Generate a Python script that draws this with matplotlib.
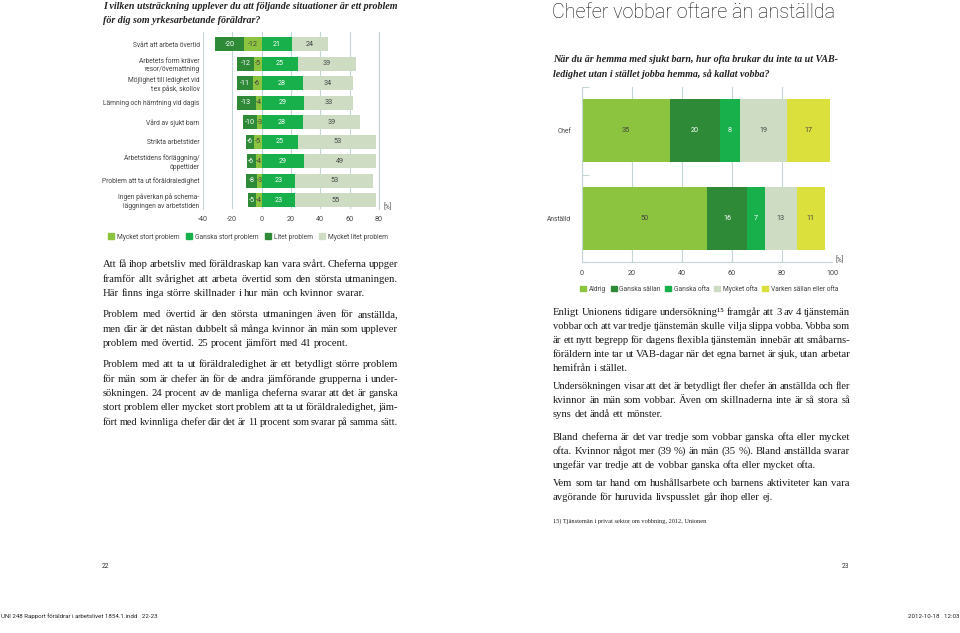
import matplotlib
matplotlib.use('Agg')
import numpy as np
from matplotlib import pyplot as plt
from matplotlib.patches import Patch

plt.rcParams['axes.unicode_minus'] = False

W, H = 960, 633

# colours
LIME = '#8cc43f'
DARK = '#2f8a38'
GREEN = '#17b04b'
PALE = '#cddcc3'
YELLOW = '#dbe03d'
GRID = '#c3d5d6'
TXT = '#444444'

# left chart data (top to bottom)
cats_left = ["Svårt att arbeta övertid",
             "Arbetets form kräver\nresor/övernattning",
             "Möjlighet till ledighet vid\nt ex påsk, skollov",
             "Lämning och hämtning vid dagis",
             "Vård av sjukt barn",
             "Strikta arbetstider",
             "Arbetstidens förläggning/\nöppettider",
             "Problem att ta ut föräldraledighet",
             "Ingen påverkan på schema-\nläggningen av arbetstiden"]
mycket_stort = [-12, -5, -6, -4, -3, -5, -4, -3, -4]
litet = [-20, -12, -11, -13, -10, -6, -6, -8, -5]
ganska_stort = [21, 25, 28, 29, 28, 25, 29, 23, 23]
mycket_litet = [24, 39, 34, 33, 39, 53, 49, 53, 55]
xticks_left = [-40, -20, 0, 20, 40, 60, 80]

# right chart data
cats_right = ["Anställd", "Chef"]
aldrig = [50, 35]
ganska_sallan = [16, 20]
ganska_ofta = [7, 8]
mycket_ofta = [13, 19]
varken = [11, 17]
xticks_right = [0, 20, 40, 60, 80, 100]

SANS = ['Roboto', 'DejaVu Sans']
SERIF = ['Liberation Serif', 'DejaVu Serif']

fig = plt.figure(figsize=(9.6, 6.33), dpi=100)
fig.patch.set_facecolor('white')

def fx(x):
    return x / W
def fy(y):
    return 1 - y / H

NUM = 5.2

# ---- left chart
ax1 = fig.add_axes([fx(203), fy(209), 176 / W, 177 / H])
y = np.arange(len(cats_left))
h = 0.72
ax1.barh(y, mycket_stort, height=h, color=LIME, zorder=2)
ax1.barh(y, litet, left=mycket_stort, height=h, color=DARK, zorder=2)
ax1.barh(y, ganska_stort, height=h, color=GREEN, zorder=2)
ax1.barh(y, mycket_litet, left=ganska_stort, height=h, color=PALE, zorder=2)
for i in range(len(y)):
    ax1.text(mycket_stort[i] / 2, i, str(mycket_stort[i]), ha='center', va='center',
             fontsize=NUM, color=TXT, family=SANS, zorder=3)
    ax1.text(mycket_stort[i] + litet[i] / 2, i, str(litet[i]), ha='center', va='center',
             fontsize=NUM, color='white', family=SANS, zorder=3)
    ax1.text(ganska_stort[i] / 2, i, str(ganska_stort[i]), ha='center', va='center',
             fontsize=NUM, color='white', family=SANS, zorder=3)
    ax1.text(ganska_stort[i] + mycket_litet[i] / 2, i, str(mycket_litet[i]), ha='center',
             va='center', fontsize=NUM, color=TXT, family=SANS, zorder=3)
ax1.set_xlim(-40, 80)
ax1.set_ylim(8.46, -0.62)
ax1.set_xticks(xticks_left)
ax1.set_yticks(y)
ax1.set_yticklabels(cats_left, family=SANS, fontsize=4.8, color=TXT, linespacing=1.25)
ax1.tick_params(axis='y', length=0, pad=2.5)
ax1.tick_params(axis='x', length=0, pad=5, labelsize=5.2, labelcolor=TXT)
for t in ax1.get_xticklabels():
    t.set_family(SANS)
ax1.grid(axis='x', color=GRID, lw=0.8, zorder=0)
ax1.set_axisbelow(True)
for s in ['top', 'bottom']:
    ax1.spines[s].set_visible(False)
for s in ['left', 'right']:
    ax1.spines[s].set_color(GRID)
    ax1.spines[s].set_linewidth(0.8)
fig.text(fx(383), fy(207), '[%]', fontsize=4.8, color=TXT, family=SANS, va='center')
ax1.legend(handles=[Patch(color=LIME), Patch(color=GREEN), Patch(color=DARK), Patch(color=PALE)],
           labels=['Mycket stort problem', 'Ganska stort problem', 'Litet problem',
                   'Mycket litet problem'],
           loc='center left', bbox_to_anchor=(fx(108), fy(237)), bbox_transform=fig.transFigure,
           ncol=4, frameon=False, prop={'family': SANS, 'size': 4.8}, handlelength=0.9,
           handleheight=0.9, handletextpad=0.4, columnspacing=1.0, borderpad=0,
           borderaxespad=0, labelcolor=TXT)

# ---- right chart
ax2 = fig.add_axes([fx(582), fy(262), 250 / W, 175 / H])
y2 = np.arange(len(cats_right))
h2 = 0.716
left = np.zeros(len(y2))
series = [(aldrig, LIME, TXT), (ganska_sallan, DARK, 'white'), (ganska_ofta, GREEN, 'white'),
          (mycket_ofta, PALE, TXT), (varken, YELLOW, TXT)]
for vals, col, tc in series:
    ax2.barh(y2, vals, left=left, height=h2, color=col, zorder=2)
    for i, v in enumerate(vals):
        ax2.text(left[i] + v / 2, i, str(v), ha='center', va='center', fontsize=NUM,
                 color=tc, family=SANS, zorder=3)
    left = left + np.array(vals)
ax2.set_xlim(0, 100)
ax2.set_ylim(-0.5, 1.5)
ax2.set_xticks(xticks_right)
ax2.set_yticks(y2)
ax2.set_yticklabels(cats_right, family=SANS, fontsize=4.8, color=TXT)
ax2.set_yticks([-0.5, 0.5, 1.5], minor=True)
ax2.tick_params(axis='y', which='major', length=0, pad=8)
ax2.tick_params(axis='y', which='minor', length=5, direction='in', color=GRID, width=0.8)
ax2.tick_params(axis='x', length=0, pad=6, labelsize=5.2, labelcolor=TXT)
for t in ax2.get_xticklabels():
    t.set_family(SANS)
ax2.grid(axis='x', color=GRID, lw=0.8, zorder=0)
ax2.set_axisbelow(True)
for s in ['top', 'right']:
    ax2.spines[s].set_visible(False)
for s in ['left', 'bottom']:
    ax2.spines[s].set_color(GRID)
    ax2.spines[s].set_linewidth(0.8)
fig.text(fx(836), fy(260), '[%]', fontsize=4.8, color=TXT, family=SANS, va='center')
ax2.legend(handles=[Patch(color=LIME), Patch(color=DARK), Patch(color=GREEN), Patch(color=PALE),
                    Patch(color=YELLOW)],
           labels=['Aldrig', 'Ganska sällan', 'Ganska ofta', 'Mycket ofta',
                   'Varken sällan eller ofta'],
           loc='center left', bbox_to_anchor=(fx(580), fy(289)), bbox_transform=fig.transFigure,
           ncol=5, frameon=False, prop={'family': SANS, 'size': 4.8}, handlelength=0.9,
           handleheight=0.9, handletextpad=0.4, columnspacing=0.7, borderpad=0,
           borderaxespad=0, labelcolor=TXT)

# ---- page text
renderer = fig.canvas.get_renderer()

def put_line(x0, x1, yb, s, justify, size, **kw):
    words = s.split(' ')
    target = x1 - x0

    def measure(sz):
        ts = [fig.text(fx(x0), fy(yb), w, ha='left', va='baseline', fontsize=sz, **kw)
              for w in words]
        return ts, [t.get_window_extent(renderer).width for t in ts]

    ts, ws = measure(size)
    space = 0.25 * size * 100 / 72
    minspace = 0.8 * space
    if sum(ws) + (len(words) - 1) * minspace > target:
        # squeeze the line a little, like the typesetter does
        for t in ts:
            t.remove()
        size = size * (target - (len(words) - 1) * minspace) / sum(ws)
        space = 0.25 * size * 100 / 72
        ts, ws = measure(size)
    if len(words) > 1:
        fill = (target - sum(ws)) / (len(words) - 1)
        gap = fill if justify else min(space, fill)
    else:
        gap = 0
    x = x0
    for t, w in zip(ts, ws):
        t.set_x(fx(x))
        x += w + gap

def paragraph(x0, x1, y0, lines, step=14.5, size=7.7, **kw):
    for k, s in enumerate(lines):
        put_line(x0, x1, y0 + k * step, s, k < len(lines) - 1, size, **kw)

body = dict(family=SERIF, color='#1a1a1a')
ital = dict(family=SERIF, fontsize=7.2, color='#222222', style='italic', weight='bold')

fig.text(fx(103), fy(9), 'I vilken utsträckning upplever du att följande situationer är ett problem',
         va='baseline', **ital)
fig.text(fx(103), fy(23), 'för dig som yrkesarbetande föräldrar?', va='baseline', **ital)
fig.text(fx(553), fy(62), 'När du är hemma med sjukt barn, hur ofta brukar du inte ta ut VAB-',
         va='baseline', **ital)
fig.text(fx(553), fy(77), 'ledighet utan i stället jobba hemma, så kallat vobba?',
         va='baseline', **ital)
fig.text(fx(552), fy(13), 'Chefer vobbar oftare än anställda', va='center', ha='left',
         family=SANS, fontsize=14.2, weight='light', color='#111111')

paragraph(103, 398, 267, [
    "Att få ihop arbetsliv med föräldraskap kan vara svårt. Cheferna uppger",
    "framför allt svårighet att arbeta övertid som den största utmaningen.",
    "Här finns inga större skillnader i hur män och kvinnor svarar."], **body)
paragraph(103, 398, 317, [
    "Problem med övertid är den största utmaningen även för anställda,",
    "men där är det nästan dubbelt så många kvinnor än män som upplever",
    "problem med övertid. 25 procent jämfört med 41 procent."], **body)
paragraph(103, 398, 367, [
    "Problem med att ta ut föräldraledighet är ett betydligt större problem",
    "för män som är chefer än för de andra jämförande grupperna i under-",
    "sökningen. 24 procent av de manliga cheferna svarar att det är ganska",
    "stort problem eller mycket stort problem att ta ut föräldraledighet, jäm-",
    "fört med kvinnliga chefer där det är 11 procent som svarar på samma sätt."], **body)

paragraph(553, 850, 315, [
    "Enligt Unionens tidigare undersökning¹⁵ framgår att 3 av 4 tjänstemän",
    "vobbar och att var tredje tjänstemän skulle vilja slippa vobba. Vobba som",
    "är ett nytt begrepp för dagens flexibla tjänstemän innebär att småbarns-",
    "föräldern inte tar ut VAB-dagar när det egna barnet är sjuk, utan arbetar",
    "hemifrån i stället."], step=14.0, **body)
paragraph(553, 850, 389, [
    "Undersökningen visar att det är betydligt fler chefer än anställda och fler",
    "kvinnor än män som vobbar. Även om skillnaderna inte är så stora så",
    "syns det ändå ett mönster."], step=14.0, **body)
paragraph(553, 850, 440, [
    "Bland cheferna är det var tredje som vobbar ganska ofta eller mycket",
    "ofta. Kvinnor något mer (39 %) än män (35 %). Bland anställda svarar",
    "ungefär var tredje att de vobbar ganska ofta eller mycket ofta."], step=14.0, **body)
paragraph(553, 850, 486, [
    "Vem som tar hand om hushållsarbete och barnens aktiviteter kan vara",
    "avgörande för huruvida livspusslet går ihop eller ej."], step=14.0, **body)
fig.text(fx(553), fy(523), '15) Tjänstemän i privat sektor om vobbning, 2012, Unionen',
         va='baseline', family=SERIF, fontsize=4.6, color='#222222')

# page numbers and slug
fig.text(fx(105), fy(566), '22', ha='center', va='center', family=SANS, fontsize=4.8, color='#333333')
fig.text(fx(845), fy(566), '23', ha='center', va='center', family=SANS, fontsize=4.8, color='#333333')
fig.text(fx(1), fy(616), 'UNI 248 Rapport föräldrar i arbetslivet 1854.1.indd   22-23', ha='left',
         va='center', family=SANS, fontsize=4.4, color='#222222')
fig.text(fx(959), fy(616), '2012-10-18   12:03', ha='right', va='center', family=SANS,
         fontsize=4.4, color='#222222')

fig.savefig('out.png', dpi=100, facecolor='white')
